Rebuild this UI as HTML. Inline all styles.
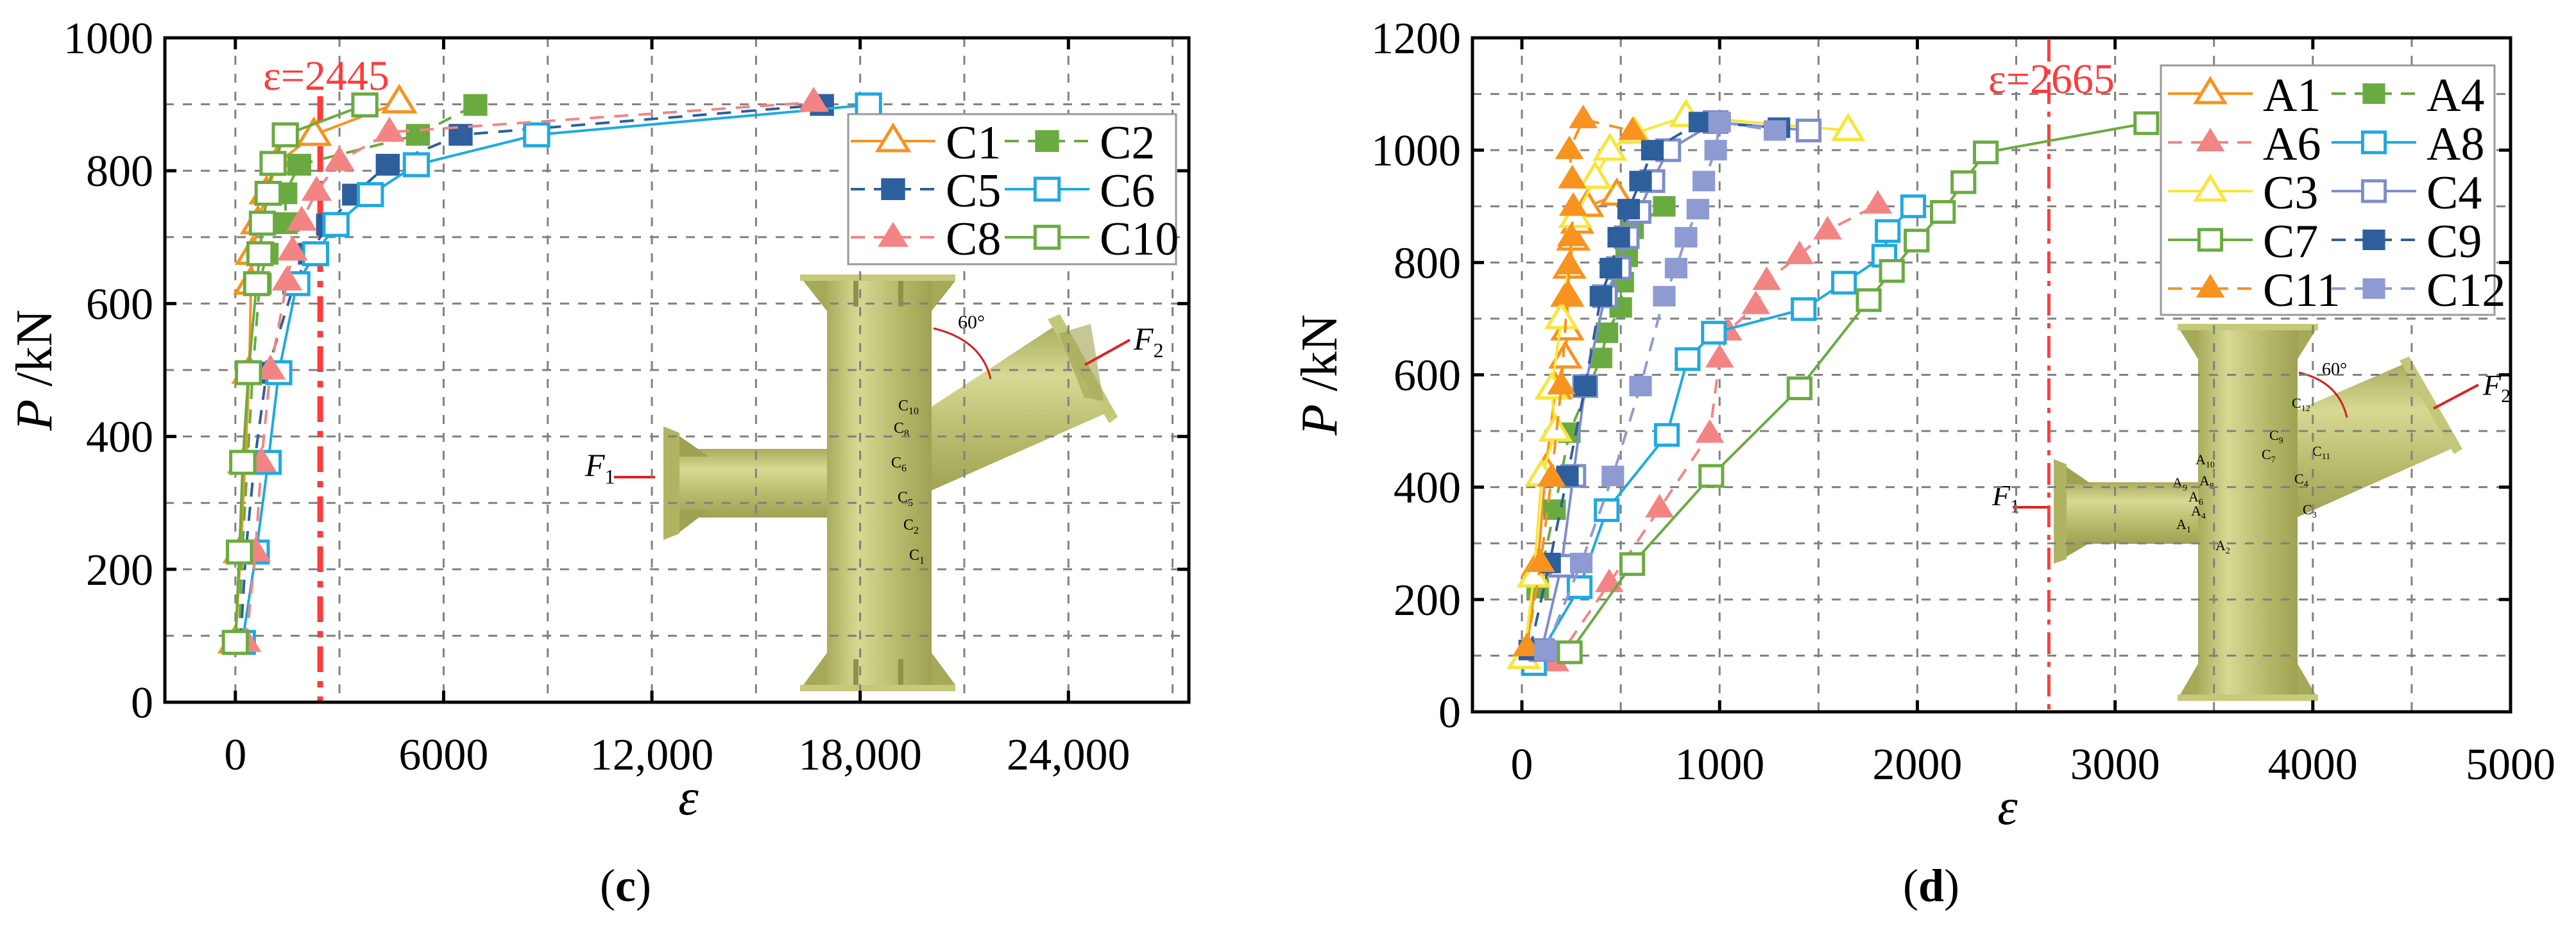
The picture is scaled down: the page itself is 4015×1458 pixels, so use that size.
<!DOCTYPE html>
<html><head><meta charset="utf-8">
<style>
html,body{margin:0;padding:0;background:#fff;}
svg{display:block;}
text{font-family:"Liberation Serif",serif;}
</style></head>
<body>
<svg id="fig" width="4015" height="1458" viewBox="0 0 4015 1458" xmlns="http://www.w3.org/2000/svg">
<defs>
<linearGradient id="colg" x1="0" x2="1" y1="0" y2="0">
<stop offset="0" stop-color="#a9ad5c"/><stop offset="0.3" stop-color="#d6d993"/><stop offset="0.7" stop-color="#b4b868"/><stop offset="1" stop-color="#9ea252"/>
</linearGradient>
<linearGradient id="brg" x1="0" x2="0" y1="0" y2="1">
<stop offset="0" stop-color="#a9ad5c"/><stop offset="0.3" stop-color="#d6d993"/><stop offset="0.7" stop-color="#b4b868"/><stop offset="1" stop-color="#9ea252"/>
</linearGradient>
</defs>
<rect width="4015" height="1458" fill="#fff"/>
<g id="structC">
  <polygon points="1440,642 1646,507 1729,642 1440,770" fill="url(#brg)"/>
  <polygon points="1633,498 1652,490 1742,650 1729,660" fill="#c3c77a"/>
  <polygon points="1650,520 1700,505 1720,625 1690,620" fill="#9ea252" opacity="0.6"/>
  <rect x="1050" y="700" width="245" height="107" fill="url(#brg)"/>
  <polygon points="1034,665 1059,675 1059,832 1034,842" fill="#b0b462"/>
  <polygon points="1059,680 1105,712 1059,712" fill="#9ea252"/>
  <polygon points="1059,830 1105,795 1059,795" fill="#9ea252"/>
  <rect x="1289" y="430" width="163" height="646" fill="url(#colg)"/>
  <rect x="1247" y="428" width="242" height="10" fill="#c6c97a"/>
  <rect x="1247" y="1068" width="242" height="10" fill="#c6c97a"/>
  <polygon points="1252,438 1289,438 1289,485" fill="#a5a958"/>
  <polygon points="1489,438 1452,438 1452,485" fill="#a5a958"/>
  <polygon points="1252,1068 1289,1068 1289,1018" fill="#a5a958"/>
  <polygon points="1489,1068 1452,1068 1452,1018" fill="#a5a958"/>
  <rect x="1330" y="438" width="8" height="40" fill="#8e9248"/>
  <rect x="1400" y="438" width="8" height="40" fill="#8e9248"/>
  <rect x="1330" y="1028" width="8" height="40" fill="#8e9248"/>
  <rect x="1400" y="1028" width="8" height="40" fill="#8e9248"/>
  <text x="912" y="742" font-size="50" font-style="italic">F<tspan font-size="32" dy="12" font-style="normal">1</tspan></text>
  <line x1="957" y1="744" x2="1021" y2="744" stroke="#e02020" stroke-width="4"/>
  <text x="1767" y="545" font-size="50" font-style="italic">F<tspan font-size="32" dy="12" font-style="normal">2</tspan></text>
  <line x1="1761" y1="530" x2="1691" y2="569" stroke="#e02020" stroke-width="4"/>
  <path d="M1455,512 Q1530,530 1544,591" fill="none" stroke="#d02020" stroke-width="3"/>
  <text x="1493" y="512" font-size="30">60°</text>
  <g font-size="24">
    <text x="1400" y="640">C<tspan font-size="16" dy="6">10</tspan></text>
    <text x="1393" y="675">C<tspan font-size="16" dy="6">8</tspan></text>
    <text x="1389" y="729">C<tspan font-size="16" dy="6">6</tspan></text>
    <text x="1399" y="783">C<tspan font-size="16" dy="6">5</tspan></text>
    <text x="1408" y="826">C<tspan font-size="16" dy="6">2</tspan></text>
    <text x="1417" y="873">C<tspan font-size="16" dy="6">1</tspan></text>
  </g>
</g>
<g id="structD">
  <polygon points="3575,642 3748,567 3825,698 3575,809" fill="url(#brg)"/>
  <polygon points="3740,562 3755,556 3838,700 3825,708" fill="#c3c77a"/>
  <rect x="3215" y="752" width="215" height="96" fill="url(#brg)"/>
  <polygon points="3201,716 3221,724 3221,872 3201,879" fill="#b0b462"/>
  <polygon points="3221,728 3260,755 3221,755" fill="#9ea252"/>
  <polygon points="3221,868 3260,845 3221,845" fill="#9ea252"/>
  <rect x="3426" y="510" width="155" height="578" fill="url(#colg)"/>
  <rect x="3394" y="505" width="219" height="10" fill="#c6c97a"/>
  <rect x="3394" y="1083" width="219" height="10" fill="#c6c97a"/>
  <polygon points="3398,515 3426,515 3426,560" fill="#a5a958"/>
  <polygon points="3609,515 3581,515 3581,560" fill="#a5a958"/>
  <polygon points="3398,1083 3426,1083 3426,1035" fill="#a5a958"/>
  <polygon points="3609,1083 3581,1083 3581,1035" fill="#a5a958"/>
  <text x="3105" y="788" font-size="46" font-style="italic">F<tspan font-size="30" dy="11" font-style="normal">1</tspan></text>
  <line x1="3137" y1="791" x2="3195" y2="791" stroke="#e02020" stroke-width="4"/>
  <text x="3870" y="616" font-size="46" font-style="italic">F<tspan font-size="30" dy="11" font-style="normal">2</tspan></text>
  <line x1="3863" y1="600" x2="3793" y2="637" stroke="#e02020" stroke-width="4"/>
  <path d="M3583,581 Q3645,595 3658,651" fill="none" stroke="#d02020" stroke-width="3"/>
  <text x="3619" y="585" font-size="28">60°</text>
  <g font-size="22">
    <text x="3422" y="724">A<tspan font-size="14" dy="5">10</tspan></text>
    <text x="3386" y="760">A<tspan font-size="14" dy="5">9</tspan></text>
    <text x="3428" y="757">A<tspan font-size="14" dy="5">8</tspan></text>
    <text x="3411" y="782">A<tspan font-size="14" dy="5">6</tspan></text>
    <text x="3415" y="804">A<tspan font-size="14" dy="5">4</tspan></text>
    <text x="3392" y="825">A<tspan font-size="14" dy="5">1</tspan></text>
    <text x="3453" y="858">A<tspan font-size="14" dy="5">2</tspan></text>
    <text x="3572" y="636">C<tspan font-size="14" dy="5">12</tspan></text>
    <text x="3537" y="686">C<tspan font-size="14" dy="5">9</tspan></text>
    <text x="3525" y="716">C<tspan font-size="14" dy="5">7</tspan></text>
    <text x="3604" y="711">C<tspan font-size="14" dy="5">11</tspan></text>
    <text x="3576" y="754">C<tspan font-size="14" dy="5">4</tspan></text>
    <text x="3589" y="802">C<tspan font-size="14" dy="5">3</tspan></text>
  </g>
</g>
<g id="layer"></g>
<text x="975" y="1405" font-size="72" text-anchor="middle">(<tspan font-weight="bold">c</tspan>)</text>
<text x="3010" y="1405" font-size="72" text-anchor="middle">(<tspan font-weight="bold">d</tspan>)</text>
</svg>
<script>
// ---------- Chart C data ----------
const cSeries = ["C1","C2","C5","C6","C8","C10"];
const cC1x = [0,150,280,400,450,500,650,900,1200,2265,4720];
const cC1y = [90,226,361,496,630,675,721,766,811,854,903];
const cC2x = [100,200,350,500,700,900,1450,1440,1840,5260,6915];
const cC2y = [90,226,361,496,630,675,721,766,809,854,899];
const cC5x = [150,300,550,900,1700,2150,2670,3420,4390,6490,16900];
const cC5y = [90,226,361,496,630,675,719,764,809,854,899];
const cC6x = [200,600,944,1250,1770,2310,2900,3890,5215,8680,18240];
const cC6y = [90,226,361,496,630,675,719,764,809,854,899];
const cC8x = [310,580,750,1010,1490,1650,1910,2340,3000,4440,16660];
const cC8y = [90,226,361,500,634,679,724,769,814,858,903];
const cC10x = [0,118,212,378,613,708,779,944,1086,1440,3730];
const cC10y = [90,226,361,496,630,675,721,766,811,854,899];
const cXTicks = [0,6000,12000,18000,24000];
const cXTickLabels = ["0","6000","12,000","18,000","24,000"];
const cYTicks = [0,200,400,600,800,1000];
const cRef = 2445;
// ---------- Chart D data ----------
const dA1x = [20,80,120,170,220,230,230,240,260,280,330,480];
const dA1y = [100,260,430,575,630,680,740,790,840,870,900,920];
const dA4x = [80,165,240,400,430,500,510,530,560,720];
const dA4y = [220,360,497,630,675,720,765,810,860,900];
const dA6x = [167,442,696,950,1000,1042,1183,1238,1404,1546,1800];
const dA6y = [88,229,362,495,629,677,724,767,813,857,903];
const dA8x = [62,292,429,733,838,971,1425,1629,1833,1850,1979];
const dA8y = [85,222,359,493,628,675,717,764,812,856,900];
const dC3x = [10,60,100,170,150,200,270,370,445,570,830,1650];
const dC3y = [95,240,420,500,575,700,880,950,1000,1030,1060,1035];
const dC4x = [100,200,260,320,420,490,530,590,660,740,980,1450];
const dC4y = [110,260,420,580,740,790,845,890,945,1000,1050,1035];
const dC7x = [242,558,958,1404,1754,1871,1996,2129,2233,2346,3158];
const dC7y = [106,263,420,576,733,785,839,890,943,996,1048];
const dC9x = [40,140,230,320,400,450,490,540,600,660,900,1300];
const dC9y = [110,265,420,580,740,790,845,895,945,1000,1050,1040];
const dC11x = [25,95,150,200,230,240,250,260,255,240,310,560];
const dC11y = [115,265,417,581,741,795,845,899,948,1000,1055,1034];
const dC12x = [120,300,460,600,720,780,830,890,920,980,1000,1280];
const dC12y = [110,265,420,580,740,790,845,895,945,1000,1050,1035];
const dXTicks = [0,1000,2000,3000,4000,5000];
const dYTicks = [0,200,400,600,800,1000,1200];
const dRef = 2665;

const NS="http://www.w3.org/2000/svg";
const layer=document.getElementById('layer');
function mk(tag,attrs,parent){const e=document.createElementNS(NS,tag);for(const k in attrs)e.setAttribute(k,attrs[k]);(parent||layer).appendChild(e);return e;}

function buildChart(cfg){
  const g=mk('g',{});
  
  
  const X=v=>cfg.x0+(v-cfg.xmin)/(cfg.xmax-cfg.xmin)*(cfg.x1-cfg.x0);
  const Y=v=>cfg.y0-(v-cfg.ymin)/(cfg.ymax-cfg.ymin)*(cfg.y0-cfg.y1);
  for(let v=cfg.xGridStart; v<cfg.xmax; v+=cfg.xGridStep){
    if(X(v)<=cfg.x0+2) continue;
    const l=mk('line',{x1:X(v),x2:X(v),y1:cfg.y1,y2:cfg.y0,stroke:'#808080','stroke-width':3,'stroke-dasharray':'14 14'},g);
    
    
  }
  for(let v=cfg.ymin+cfg.yGridStep; v<cfg.ymax; v+=cfg.yGridStep){
    const l=mk('line',{x1:cfg.x0,x2:cfg.x1,y1:Y(v),y2:Y(v),stroke:'#808080','stroke-width':3,'stroke-dasharray':'14 14'},g);
    
    
  }
  cfg.xTicks.forEach((v,i)=>{
    mk('line',{x1:X(v),x2:X(v),y1:cfg.y0,y2:cfg.y0-18,stroke:'#000','stroke-width':5},g);
    mk('line',{x1:X(v),x2:X(v),y1:cfg.y1,y2:cfg.y1+18,stroke:'#000','stroke-width':5},g);
    const t=mk('text',{x:X(v),y:cfg.y0+105,'font-size':70,'text-anchor':'middle'},g);
    t.textContent=cfg.xLabels[i];
    
    
  });
  cfg.yTicks.forEach(v=>{
    mk('line',{x1:cfg.x0,x2:cfg.x0+18,y1:Y(v),y2:Y(v),stroke:'#000','stroke-width':5},g);
    mk('line',{x1:cfg.x1,x2:cfg.x1-18,y1:Y(v),y2:Y(v),stroke:'#000','stroke-width':5},g);
    const t=mk('text',{x:cfg.x0-18,y:Y(v)+24,'font-size':70,'text-anchor':'end'},g);
    t.textContent=String(v);
    
    
  });
  const rl=mk('line',{x1:X(cfg.ref),x2:X(cfg.ref),y1:cfg.refTop,y2:cfg.y0,stroke:'#ff3b3b','stroke-width':cfg.refW,'stroke-dasharray':cfg.refDash},g);
  
  
  const rt=mk('text',{x:cfg.refTextX,y:cfg.refTextY,'font-size':66,fill:'#ff3b3b'},g);
  rt.textContent='ε='+cfg.ref;
  
  
  cfg.series.forEach(s=>{
    const sg=mk('g',{},g);
    
    
    const pts=s.x.map((v,i)=>X(v)+','+Y(s.y[i])).join(' ');
    const pl=mk('polyline',{points:pts,fill:'none',stroke:s.color,'stroke-width':4,'stroke-dasharray':s.dash?'22 16':'none'},sg);
    
    
    s.x.forEach((v,i)=>{
      const m=marker(sg,s,X(v),Y(s.y[i]),cfg.ms);
      
      
    });
  });
  const fr=mk('rect',{x:cfg.x0,y:cfg.y1,width:cfg.x1-cfg.x0,height:cfg.y0-cfg.y1,fill:'none',stroke:'#000','stroke-width':5},g);
  
  
  const yt=mk('text',{x:0,y:0,'font-size':80,'text-anchor':'middle',transform:`translate(${cfg.yTitleX},${(cfg.y0+cfg.y1)/2}) rotate(-90)`},g);
  yt.innerHTML='<tspan font-style="italic">P</tspan> /kN';
  
  
  const xt=mk('text',{x:cfg.xTitleX,y:cfg.y0+175,'font-size':80,'font-style':'italic','text-anchor':'middle'},g);
  xt.textContent='ε';
  
  
  const L=cfg.legend;
  const lg=mk('g',{},g);
  
  
  mk('rect',{x:L.x,y:L.y,width:L.w,height:L.h,fill:'#fff',stroke:'#999','stroke-width':3},lg);
  cfg.series.forEach((s,i)=>{
    const col=i%2,row=Math.floor(i/2);
    const cx=L.x+L.symX[col], cy=L.y+L.row0+row*L.rowH;
    const e=mk('g',{},lg);
    
    
    mk('line',{x1:cx-66,x2:cx+66,y1:cy,y2:cy,stroke:s.color,'stroke-width':4,'stroke-dasharray':s.dash?'22 14':'none'},e);
    marker(e,s,cx,cy,cfg.ms);
    const t=mk('text',{x:cx+82,y:cy+27,'font-size':74},e);
    t.textContent=s.name;
  });
}
function marker(p,s,x,y,ms){
  const fill=s.filled?s.color:'#fff';
  if(s.shape==='sq'){
    return mk('rect',{x:x-ms*0.55,y:y-ms/2,width:ms*1.1,height:ms,fill:fill,stroke:s.color,'stroke-width':s.filled?0:5},p);
  } else {
    const h=ms*1.15,w=ms*1.4;
    return mk('polygon',{points:`${x},${y-h*0.62} ${x-w/2},${y+h*0.38} ${x+w/2},${y+h*0.38}`,fill:fill,stroke:s.color,'stroke-width':s.filled?0:5},p);
  }
}
buildChart({name:'chart-c',x0:257,x1:1853,y0:1095,y1:59,xmin:-2030,xmax:27470,ymin:0,ymax:1000,
  xGridStart:0,xGridStep:3000,yGridStep:100,xTicks:cXTicks,xLabels:cXTickLabels,yTicks:cYTicks,
  ref:cRef,refTop:150,refW:9,refDash:'40 14 10 14',refTextX:410,refTextY:140,ms:34,yTitleX:80,xTitleX:1073,
  legend:{x:1322,y:178,w:511,h:234,symX:[70,310],row0:42,rowH:75},
  series:[
    {name:'C1',x:cC1x,y:cC1y,color:'#f7931e',shape:'tri',filled:false,dash:false},
    {name:'C2',x:cC2x,y:cC2y,color:'#6aab41',shape:'sq',filled:true,dash:true},
    {name:'C5',x:cC5x,y:cC5y,color:'#2d5f9c',shape:'sq',filled:true,dash:true},
    {name:'C6',x:cC6x,y:cC6y,color:'#1fa9e1',shape:'sq',filled:false,dash:false},
    {name:'C8',x:cC8x,y:cC8y,color:'#f28584',shape:'tri',filled:true,dash:true},
    {name:'C10',x:cC10x,y:cC10y,color:'#6aab41',shape:'sq',filled:false,dash:false}
  ]});
buildChart({name:'chart-d',x0:2295,x1:3913,y0:1110,y1:59,xmin:-250,xmax:5000,ymin:0,ymax:1200,
  xGridStart:0,xGridStep:500,yGridStep:100,xTicks:dXTicks,xLabels:dXTicks.map(String),yTicks:dYTicks,
  ref:dRef,refTop:62,refW:5,refDash:'34 12 8 12',refTextX:3099,refTextY:145,ms:32,yTitleX:2083,xTitleX:3129,
  legend:{x:3368,y:102,w:520,h:389,symX:[77,332],row0:44,rowH:76},
  series:[
    {name:'A1',x:dA1x,y:dA1y,color:'#f7931e',shape:'tri',filled:false,dash:false},
    {name:'A4',x:dA4x,y:dA4y,color:'#6aab41',shape:'sq',filled:true,dash:true},
    {name:'A6',x:dA6x,y:dA6y,color:'#f28584',shape:'tri',filled:true,dash:true},
    {name:'A8',x:dA8x,y:dA8y,color:'#1fa9e1',shape:'sq',filled:false,dash:false},
    {name:'C3',x:dC3x,y:dC3y,color:'#f9e53a',shape:'tri',filled:false,dash:false},
    {name:'C4',x:dC4x,y:dC4y,color:'#7f8dc9',shape:'sq',filled:false,dash:false},
    {name:'C7',x:dC7x,y:dC7y,color:'#6aab41',shape:'sq',filled:false,dash:false},
    {name:'C9',x:dC9x,y:dC9y,color:'#2d5f9c',shape:'sq',filled:true,dash:true},
    {name:'C11',x:dC11x,y:dC11y,color:'#f7931e',shape:'tri',filled:true,dash:true},
    {name:'C12',x:dC12x,y:dC12y,color:'#8e9bd3',shape:'sq',filled:true,dash:true}
  ]});
</script>
</body></html>
